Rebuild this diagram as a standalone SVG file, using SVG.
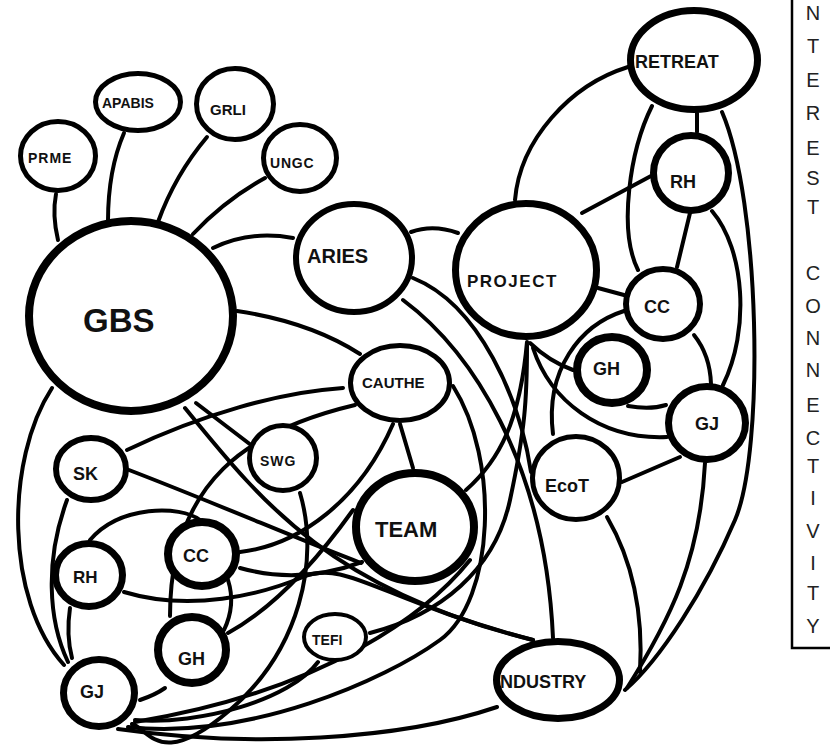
<svg xmlns="http://www.w3.org/2000/svg" width="830" height="749" viewBox="0 0 830 749">
<style>
.n{fill:#fff;stroke:#000}
.e path{fill:none;stroke:#000;stroke-width:4;stroke-linecap:round}
.t{font-family:"Liberation Sans",Arial,sans-serif;font-weight:bold;fill:#111}
.s{font-family:"Liberation Sans",Arial,sans-serif;fill:#222;font-size:20px;text-anchor:middle}
</style>
<rect width="830" height="749" fill="#fff"/>
<g id="connectors" class="e">
<path d="M56,194 Q52,215 58,240"/>
<path d="M124,133 Q108,170 108,221"/>
<path d="M207,137 Q175,175 158,222"/>
<path d="M265,178 Q225,200 193,234"/>
<path d="M213,248 Q250,230 293,238"/>
<path d="M237,311 Q310,322 360,354"/>
<path d="M196,403 L251,445"/>
<path d="M185,408 C260,500 330,590 533,640"/>
<path d="M127,450 C200,415 280,392 343,388"/>
<path d="M129,470 C220,505 300,540 361,563"/>
<path d="M67,500 C45,560 48,620 68,662"/>
<path d="M52,388 C5,460 5,600 64,665"/>
<path d="M70,608 Q66,635 72,658"/>
<path d="M90,540 C120,505 180,505 200,520"/>
<path d="M124,592 C190,612 260,595 303,577 S380,600 533,640"/>
<path d="M240,568 Q300,585 362,562"/>
<path d="M240,552 C300,545 360,500 393,424"/>
<path d="M355,405 C250,430 170,480 170,616"/>
<path d="M228,633 C270,610 310,570 353,510"/>
<path d="M228,580 Q236,605 224,630"/>
<path d="M140,700 Q155,695 165,688"/>
<path d="M300,493 C320,560 300,650 230,710 S150,730 132,724"/>
<path d="M400,424 L413,468"/>
<path d="M466,490 C500,460 520,420 527,342"/>
<path d="M370,633 C440,615 495,570 510,500 S527,400 527,345"/>
<path d="M453,386 C500,460 495,600 440,640 S250,740 128,727"/>
<path d="M470,560 C430,610 330,690 135,722"/>
<path d="M318,662 C290,700 200,725 135,720"/>
<path d="M497,707 C400,740 250,748 118,729"/>
<path d="M411,232 Q433,224 458,233"/>
<path d="M403,300 C470,350 545,460 553,638"/>
<path d="M413,278 C480,305 520,400 531,472"/>
<path d="M628,67 C570,85 520,140 515,200"/>
<path d="M697,113 L697,132"/>
<path d="M652,106 C630,150 618,230 638,270"/>
<path d="M722,112 C760,200 765,450 735,520 S660,660 625,690"/>
<path d="M690,213 L677,267"/>
<path d="M712,211 C745,250 750,330 723,385"/>
<path d="M582,213 L651,176"/>
<path d="M598,288 L624,295"/>
<path d="M530,343 Q550,362 573,370"/>
<path d="M533,348 C550,400 600,440 667,437"/>
<path d="M624,311 C580,325 545,370 553,434"/>
<path d="M694,335 Q710,355 711,384"/>
<path d="M628,406 Q650,410 666,405"/>
<path d="M622,482 Q650,470 680,457"/>
<path d="M607,517 C635,565 643,620 640,672"/>
<path d="M705,463 C700,560 670,620 627,688"/>
</g>
<g id="PRME"><ellipse class="n" cx="58" cy="156" rx="37.5" ry="34.5" stroke-width="5"/><text class="t" x="28" y="163" font-size="14" letter-spacing="1">PRME</text></g>
<g id="APABIS"><ellipse class="n" cx="138" cy="102" rx="42.5" ry="28.5" stroke-width="5"/><text class="t" x="102" y="108" font-size="14">APABIS</text></g>
<g id="GRLI"><ellipse class="n" cx="235" cy="104" rx="38.5" ry="35.5" stroke-width="5"/><text class="t" x="210" y="115" font-size="15">GRLI</text></g>
<g id="UNGC"><ellipse class="n" cx="300" cy="158" rx="36.5" ry="33.5" stroke-width="5"/><text class="t" x="270" y="168" font-size="14" letter-spacing="0.8">UNGC</text></g>
<g id="GBS"><ellipse class="n" cx="131" cy="316" rx="102" ry="95" stroke-width="8"/><text class="t" x="83" y="332" font-size="33">GBS</text></g>
<g id="ARIES"><ellipse class="n" cx="354" cy="258" rx="58" ry="54" stroke-width="6"/><text class="t" x="307" y="263" font-size="20">ARIES</text></g>
<g id="PROJECT"><ellipse class="n" cx="526" cy="270" rx="70.5" ry="66.5" stroke-width="7"/><text class="t" x="467" y="287" font-size="17" letter-spacing="1.5">PROJECT</text></g>
<g id="RETREAT"><ellipse class="n" cx="694" cy="60" rx="63.5" ry="49.5" stroke-width="7"/><text class="t" x="635" y="68" font-size="18">RETREAT</text></g>
<g id="RH-right"><ellipse class="n" cx="691" cy="173" rx="37.5" ry="37.5" stroke-width="7"/><text class="t" x="670" y="188" font-size="18">RH</text></g>
<g id="CC-right"><ellipse class="n" cx="663" cy="304" rx="37" ry="35" stroke-width="6"/><text class="t" x="644" y="313" font-size="18">CC</text></g>
<g id="GH-right"><ellipse class="n" cx="612" cy="370" rx="35" ry="33" stroke-width="8"/><text class="t" x="593" y="375" font-size="18">GH</text></g>
<g id="GJ-right"><ellipse class="n" cx="707" cy="423" rx="38.5" ry="36.5" stroke-width="7"/><text class="t" x="695" y="430" font-size="18">GJ</text></g>
<g id="EcoT"><ellipse class="n" cx="576" cy="478" rx="43.5" ry="41.5" stroke-width="5"/><text class="t" x="545" y="492" font-size="18">EcoT</text></g>
<g id="CAUTHE"><ellipse class="n" cx="400" cy="383" rx="49.5" ry="37.5" stroke-width="5"/><text class="t" x="362" y="388" font-size="15">CAUTHE</text></g>
<g id="SWG"><ellipse class="n" cx="283" cy="458" rx="33.5" ry="32.5" stroke-width="5"/><text class="t" x="260" y="466" font-size="14" letter-spacing="1">SWG</text></g>
<g id="TEAM"><ellipse class="n" cx="415" cy="527" rx="59" ry="54" stroke-width="8"/><text class="t" x="375" y="537" font-size="22">TEAM</text></g>
<g id="SK"><ellipse class="n" cx="91" cy="469" rx="35" ry="31" stroke-width="6"/><text class="t" x="73" y="480" font-size="18">SK</text></g>
<g id="RH-left"><ellipse class="n" cx="89" cy="575" rx="33.5" ry="31.5" stroke-width="7"/><text class="t" x="73" y="583" font-size="17">RH</text></g>
<g id="CC-left"><ellipse class="n" cx="202" cy="554" rx="34" ry="32" stroke-width="8"/><text class="t" x="183" y="562" font-size="18">CC</text></g>
<g id="GH-left"><ellipse class="n" cx="192" cy="650" rx="34" ry="33" stroke-width="8"/><text class="t" x="178" y="665" font-size="18">GH</text></g>
<g id="GJ-left"><ellipse class="n" cx="99" cy="693" rx="35.5" ry="33.5" stroke-width="7"/><text class="t" x="80" y="698" font-size="18">GJ</text></g>
<g id="TEFI"><ellipse class="n" cx="335" cy="637" rx="31" ry="23" stroke-width="4"/><text class="t" x="312" y="645" font-size="14" font-weight="normal">TEFI</text></g>
<g id="INDUSTRY"><ellipse class="n" cx="558" cy="680" rx="61.5" ry="38.5" stroke-width="7"/><text class="t" x="500" y="688" font-size="18">NDUSTRY</text></g>
<g id="legend">
<path d="M792,0 V648 H830" fill="none" stroke="#000" stroke-width="2.5"/>
<text class="s" x="813" y="20">N</text>
<text class="s" x="813" y="53">T</text>
<text class="s" x="813" y="87">E</text>
<text class="s" x="813" y="120">R</text>
<text class="s" x="813" y="155">E</text>
<text class="s" x="813" y="185">S</text>
<text class="s" x="813" y="214">T</text>
<text class="s" x="813" y="280">C</text>
<text class="s" x="813" y="313">O</text>
<text class="s" x="813" y="345">N</text>
<text class="s" x="813" y="377">N</text>
<text class="s" x="813" y="412">E</text>
<text class="s" x="813" y="445">C</text>
<text class="s" x="813" y="473">T</text>
<text class="s" x="813" y="505">I</text>
<text class="s" x="813" y="538">V</text>
<text class="s" x="813" y="570">I</text>
<text class="s" x="813" y="600">T</text>
<text class="s" x="813" y="633">Y</text>
</g>
</svg>
